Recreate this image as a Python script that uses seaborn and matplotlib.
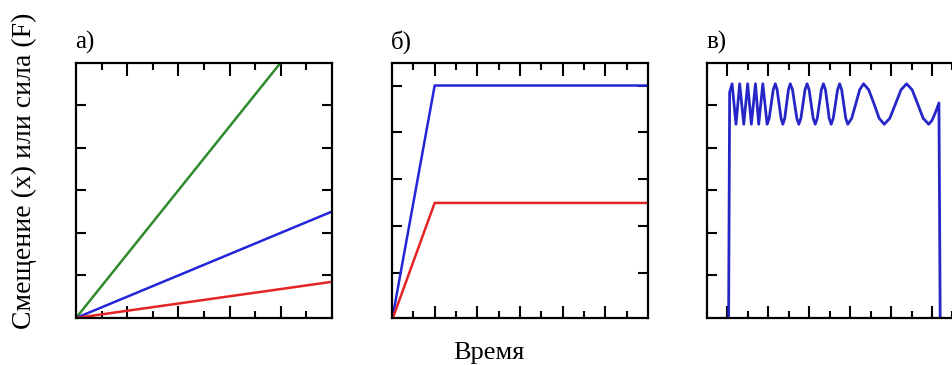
import matplotlib
matplotlib.use("Agg")
import matplotlib.pyplot as plt
import seaborn as sns

# ── data ─────────────────────────────────────────────────────
# panel а: straight lines from the origin
a_time = [0, 8]
a_green = [0, 6]
a_time_long = [0, 10]
a_blue = [0, 2.5]
a_red = [0, 0.85]

# panel б: ramp then plateau
b_time = [0, 2, 12]
b_blue = [0, 5, 5]
b_red = [0, 2.5, 2.5]

# panel в: switched-on oscillation with falling frequency
c_time = [1.07, 1.12, 1.24, 1.43, 1.61, 1.81, 2.00, 2.18, 2.38, 2.54, 2.74, 2.95,
          3.05, 3.25, 3.35, 3.44, 3.63, 3.72, 3.81, 3.99, 4.08, 4.19, 4.40, 4.50,
          4.60, 4.80, 4.90, 5.00, 5.20, 5.30, 5.40, 5.60, 5.70, 5.80, 5.98, 6.08,
          6.18, 6.39, 6.49, 6.59, 6.79, 6.89,
          7.08, 7.28, 7.47, 7.66, 7.91, 8.17, 8.42, 8.67, 8.94, 9.22, 9.49, 9.76,
          10.03, 10.30, 10.57, 10.84, 11.00, 11.18, 11.34, 11.40]
c_disp = [0.0, 5.30, 5.50, 4.55, 5.50, 4.55, 5.50, 4.55, 5.50, 4.55, 5.50, 4.55,
          4.69, 5.36, 5.50, 5.36, 4.69, 4.55, 4.69, 5.36, 5.50, 5.36, 4.69, 4.55,
          4.69, 5.36, 5.50, 5.36, 4.69, 4.55, 4.69, 5.36, 5.50, 5.36, 4.69, 4.55,
          4.69, 5.36, 5.50, 5.36, 4.69, 4.55,
          4.69, 5.03, 5.36, 5.50, 5.36, 5.03, 4.69, 4.55, 4.69, 5.03, 5.36, 5.50,
          5.36, 5.03, 4.69, 4.55, 4.64, 4.84, 5.05, 0.0]

PANEL_LABELS = ["а)", "б)", "в)"]
GREEN, BLUE, RED = "#2e8b2e", "#2424d8", "#e42424"
C_BLUE = "#2626c8"

sns.set_theme(style="ticks")
plt.rcParams["font.family"] = ["Liberation Serif", "DejaVu Serif"]
plt.rcParams["text.color"] = "black"

W, H = 952, 365
fig = plt.figure(figsize=(W / 100, H / 100), dpi=100)


def make_ax(left_px, xlim, ylim, major, minor, yticks):
    ax = fig.add_axes([left_px / W, 47 / H, 256 / W, 255.5 / H])
    ax.set_xlim(*xlim)
    ax.set_ylim(*ylim)
    ax.set_xticks(major)
    ax.set_xticks(minor, minor=True)
    ax.set_yticks(yticks)
    ax.tick_params(which="both", direction="in", top=True, right=True,
                   labelbottom=False, labelleft=False, width=1.5, color="black")
    ax.tick_params(axis="x", which="major", length=9)
    ax.tick_params(axis="x", which="minor", length=5)
    ax.tick_params(axis="y", which="major", length=7)
    for s in ax.spines.values():
        s.set_linewidth(1.6)
        s.set_color("black")
    return ax


# ── а) ───────────────────────────────────────────────────────
ax1 = make_ax(76, (0, 10), (0, 6), [2, 4, 6, 8], [1, 3, 5, 7, 9], [1, 2, 3, 4, 5])
sns.lineplot(x=a_time, y=a_green, ax=ax1, color=GREEN, lw=1.8)
sns.lineplot(x=a_time_long, y=a_blue, ax=ax1, color=BLUE, lw=1.8)
sns.lineplot(x=a_time_long, y=a_red, ax=ax1, color=RED, lw=1.8)
ax1.set_xlabel("")
ax1.set_ylabel("")

# ── б) ───────────────────────────────────────────────────────
ax2 = make_ax(392, (0, 12), (0.05, 5.49), [2, 4, 6, 8, 10], [1, 3, 5, 7, 9, 11],
              [1, 2, 3, 4, 5])
sns.lineplot(x=b_time, y=b_blue, ax=ax2, color=BLUE, lw=1.8)
sns.lineplot(x=b_time, y=b_red, ax=ax2, color=RED, lw=1.8)
ax2.set_xlabel("")
ax2.set_ylabel("")

# ── в) ───────────────────────────────────────────────────────
ax3 = make_ax(706.7, (0, 12.5), (0, 6), [1, 3, 5, 7, 9, 11], [2, 4, 6, 8, 10, 12],
              [1, 2, 3, 4, 5])
sns.lineplot(x=c_time, y=c_disp, ax=ax3, color=C_BLUE, lw=2.0, sort=False,
             estimator=None, solid_joinstyle="round")
ax3.set_xlabel("")
ax3.set_ylabel("")

# ── texts ────────────────────────────────────────────────────
for lab, xpx in zip(PANEL_LABELS, [75, 391, 707]):
    fig.text(xpx / W, 1 - 49 / H, lab, fontsize=18, va="baseline", ha="left")

fig.text(489 / W, 6 / H, "Время", fontsize=19, ha="center", va="baseline")
fig.text(24 / W, 1 - 171 / H, "Смещение (x) или сила (F)", fontsize=20,
         rotation=90, ha="center", va="center")

fig.savefig("out.png", dpi=100)
